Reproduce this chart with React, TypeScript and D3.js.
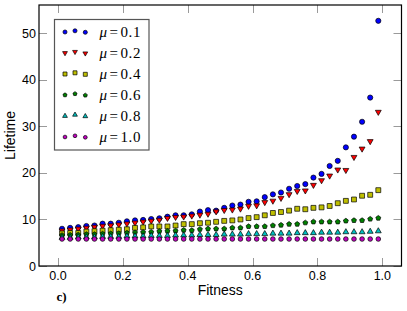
import { useEffect, useRef } from 'react';
import * as d3 from 'd3';

// x positions of the samples (fitness)
const fitness = [
  0.0125, 0.0375, 0.0625, 0.0875, 0.1125, 0.1375, 0.1625, 0.1875, 0.2125, 0.2375,
  0.2625, 0.2875, 0.3125, 0.3375, 0.3625, 0.3875, 0.4125, 0.4375, 0.4625, 0.4875,
  0.5125, 0.5375, 0.5625, 0.5875, 0.6125, 0.6375, 0.6625, 0.6875, 0.7125, 0.7375,
  0.7625, 0.7875, 0.8125, 0.8375, 0.8625, 0.8875, 0.9125, 0.9375, 0.9625, 0.9875,
];

const lifeMu01 = [
  8.0, 8.2, 8.35, 8.6, 8.7, 9.1, 9.1, 9.3, 9.6, 9.8, 9.9, 10.1, 10.25,
  10.6, 10.9, 10.9, 11.1, 11.7, 12.0, 11.9, 12.5, 13.0, 13.2, 13.8, 13.9, 14.8,
  15.4, 15.8, 16.6, 17.2, 17.6, 19.0, 19.8, 21.5, 22.6, 25.5, 27.8, 31.0, 36.2, 52.7,
];
const lifeMu02 = [
  7.6, 7.8, 8.0, 8.2, 8.4, 8.6, 8.7, 8.9, 9.1, 9.3, 9.5, 9.7, 9.9,
  10.3, 10.5, 10.6, 10.8, 11.0, 11.2, 11.7, 12.0, 12.1, 12.3, 12.9, 13.0, 13.7,
  14.0, 14.6, 15.4, 16.1, 16.2, 17.4, 18.4, 19.4, 20.7, 20.6, 23.4, 25.2, 26.8, 33.1,
];
const lifeMu04 = [
  7.0, 7.1, 7.1, 7.4, 7.5, 7.6, 7.7, 7.8, 7.9, 8.2, 8.3, 8.5, 8.5,
  8.5, 8.7, 9.0, 9.0, 9.2, 9.3, 9.5, 9.7, 9.8, 10.0, 10.3, 10.5, 10.9,
  11.4, 11.6, 11.9, 12.3, 12.2, 12.5, 12.6, 12.9, 13.5, 14.0, 14.3, 15.1, 15.3, 16.3,
];
const lifeMu06 = [
  6.6, 6.65, 6.7, 6.8, 6.8, 6.9, 6.95, 7.0, 7.1, 7.2, 7.25, 7.3, 7.45,
  7.5, 7.55, 7.7, 7.65, 7.9, 8.0, 8.0, 8.0, 8.2, 8.2, 8.5, 8.5, 8.5,
  8.7, 8.8, 9.0, 9.0, 9.3, 9.5, 9.5, 9.5, 9.5, 9.7, 9.8, 9.8, 10.1, 10.3,
];
const lifeMu08 = [
  6.1, 6.1, 6.2, 6.2, 6.2, 6.3, 6.3, 6.3, 6.4, 6.4, 6.4, 6.5, 6.5,
  6.5, 6.6, 6.6, 6.6, 6.7, 6.7, 6.7, 6.8, 6.8, 6.8, 6.9, 6.9, 6.9,
  7.0, 7.0, 7.0, 7.1, 7.1, 7.1, 7.2, 7.2, 7.2, 7.3, 7.3, 7.3, 7.4, 7.5,
];
const lifeMu10 = [
  5.8, 5.8, 5.8, 5.8, 5.8, 5.8, 5.8, 5.8, 5.8, 5.8, 5.8, 5.8, 5.8,
  5.8, 5.8, 5.8, 5.8, 5.8, 5.8, 5.8, 5.8, 5.8, 5.8, 5.8, 5.8, 5.8,
  5.8, 5.8, 5.8, 5.8, 5.8, 5.8, 5.8, 5.8, 5.8, 5.8, 5.8, 5.8, 5.8, 5.8,
];

const muLabels = ['0.1', '0.2', '0.4', '0.6', '0.8', '1.0'];
const xTicks = [0, 0.2, 0.4, 0.6, 0.8, 1.0];
const yTicks = [0, 10, 20, 30, 40, 50];

// pentagon marker (matplotlib 'p')
const symbolPentagon: d3.SymbolType = {
  draw(ctx, size) {
    const r = Math.sqrt(size / 2.378);
    for (let k = 0; k < 5; k++) {
      const a = -Math.PI / 2 + (k * 2 * Math.PI) / 5;
      const px = r * Math.cos(a), py = r * Math.sin(a);
      if (k === 0) ctx.moveTo(px, py); else ctx.lineTo(px, py);
    }
    ctx.closePath();
  },
};

export default function App() {
  const ref = useRef<SVGSVGElement | null>(null);

  useEffect(() => {
    const svg = d3.select(ref.current);
    svg.selectAll('*').remove();

    const left = 39, right = 401.5, top = 5, bottom = 266;
    const x = d3.scaleLinear().domain([-0.0585, 1.059]).range([left, right]);
    const y = d3.scaleLinear().domain([0, 56.1]).range([bottom, top]);

    const series = [
      { vals: lifeMu01, color: '#0000ff', sym: d3.symbolCircle, size: 21, lsize: 13, rot: 0 },
      { vals: lifeMu02, color: '#ff0000', sym: d3.symbolTriangle, size: 15, lsize: 10, rot: 180 },
      { vals: lifeMu04, color: '#bfbf00', sym: d3.symbolSquare, size: 24, lsize: 16, rot: 0 },
      { vals: lifeMu06, color: '#008000', sym: symbolPentagon, size: 16, lsize: 11, rot: 0 },
      { vals: lifeMu08, color: '#00bfbf', sym: d3.symbolTriangle, size: 15, lsize: 10, rot: 0 },
      { vals: lifeMu10, color: '#bf00bf', sym: d3.symbolCircle, size: 17, lsize: 11, rot: 0 },
    ];

    // ticks (inside, all four sides)
    const tickColor = '#9a9a9a';
    const tl = 8;
    const tg = svg.append('g').attr('stroke', tickColor).attr('stroke-width', 1);
    xTicks.forEach(t => {
      const px = Math.round(x(t)) + 0.5;
      tg.append('line').attr('x1', px).attr('x2', px).attr('y1', bottom).attr('y2', bottom - tl);
      tg.append('line').attr('x1', px).attr('x2', px).attr('y1', top).attr('y2', top + tl);
    });
    yTicks.forEach(t => {
      const py = Math.round(y(t)) + 0.5;
      tg.append('line').attr('x1', left).attr('x2', left + tl).attr('y1', py).attr('y2', py);
      tg.append('line').attr('x1', right).attr('x2', right - tl).attr('y1', py).attr('y2', py);
    });

    // tick labels
    const font = '"Liberation Sans", Arial, sans-serif';
    svg.append('g').selectAll('text').data(xTicks).enter().append('text')
      .attr('x', d => x(d)).attr('y', 280)
      .attr('text-anchor', 'middle').attr('font-family', font).attr('font-size', 12.5)
      .text(d => d.toFixed(1));
    svg.append('g').selectAll('text').data(yTicks).enter().append('text')
      .attr('x', 36).attr('y', d => y(d) + 4.5)
      .attr('text-anchor', 'end').attr('font-family', font).attr('font-size', 12.5)
      .text(d => String(d));

    // axis labels
    svg.append('text').attr('x', (left + right) / 2).attr('y', 295)
      .attr('text-anchor', 'middle').attr('font-family', font).attr('font-size', 14)
      .text('Fitness');
    svg.append('text').attr('transform', `translate(15, ${(top + bottom) / 2}) rotate(-90)`)
      .attr('text-anchor', 'middle').attr('font-family', font).attr('font-size', 14)
      .text('Lifetime');

    // data points
    series.forEach(s => {
      svg.append('g').selectAll('path').data(s.vals).enter().append('path')
        .attr('d', d3.symbol().type(s.sym).size(s.size)())
        .attr('transform', (d, i) => `translate(${x(fitness[i])}, ${y(d)}) rotate(${s.rot})`)
        .attr('fill', s.color).attr('stroke', '#000').attr('stroke-width', 0.7);
    });

    // frame
    svg.append('rect').attr('x', left).attr('y', top)
      .attr('width', right - left).attr('height', bottom - top)
      .attr('fill', 'none').attr('stroke', '#000').attr('stroke-width', 1.2);

    // legend
    const lg = svg.append('g');
    lg.append('rect').attr('x', 54.5).attr('y', 19.5).attr('width', 94.5).attr('height', 130.5)
      .attr('fill', '#fff').attr('stroke', '#555').attr('stroke-width', 1.2);
    const offs = [0.5, -0.7, 0.8];
    series.forEach((s, r) => {
      const cy = 31.5 + r * 21;
      [65, 75, 85.3].forEach((mx, k) => {
        lg.append('path')
          .attr('d', d3.symbol().type(s.sym).size(s.lsize)())
          .attr('transform', `translate(${mx}, ${cy + offs[k]}) rotate(${s.rot})`)
          .attr('fill', s.color).attr('stroke', '#000').attr('stroke-width', 0.7);
      });
      const t = lg.append('text').attr('x', 99.5).attr('y', cy + 5)
        .attr('font-family', '"Liberation Serif", "DejaVu Serif", serif').attr('font-size', 15);
      t.append('tspan').attr('font-style', 'italic').text('μ');
      t.append('tspan').attr('dx', 2.5).text('=');
      t.append('tspan').attr('dx', 2.5).attr('letter-spacing', 0.6).text(muLabels[r]);
    });

    // panel label
    svg.append('text').attr('x', 56.5).attr('y', 301)
      .attr('font-family', '"Liberation Serif", serif').attr('font-weight', 'bold').attr('font-size', 13)
      .text('c)');
  }, []);

  return (
    <svg ref={ref} width={407} height={311}
      style={{ position: 'absolute', left: 0, top: 0, background: '#fff' }} />
  );
}
